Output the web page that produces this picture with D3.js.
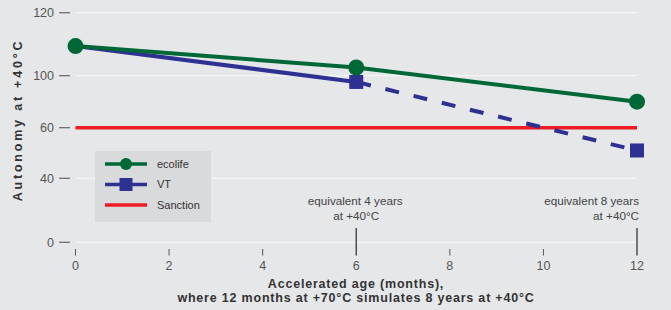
<!DOCTYPE html>
<html><head><meta charset="utf-8">
<script src="https://cdn.jsdelivr.net/npm/d3@7/dist/d3.min.js"></script>
<style>
html,body{margin:0;padding:0;background:#e6e7e9;}
svg{display:block;font-family:"Liberation Sans",Arial,sans-serif;}
</style></head>
<body>
<svg id="c" width="671" height="310"></svg>
<script>
const months = [0, 6, 12];
const ecolife = [109.4, 102.6, 80];
const vt = [109.4, 95.2, 51];
const sanction = [60, 60];
const sanctionX = [0, 12];
const yTicks = [0, 40, 60, 100, 120];
const xTicks = [0, 2, 4, 6, 8, 10, 12];
const legendItems = ["ecolife", "VT", "Sanction"];
const notes = [
  {x: 6, lines: ["equivalent 4 years", "at +40°C"], anchor: "middle"},
  {x: 12, lines: ["equivalent 8 years", "at +40°C"], anchor: "end"}
];
const xTitle = ["Accelerated age (months),", "where 12 months at +70°C simulates 8 years at +40°C"];
const yTitle = "Autonomy at +40°C";

const svg = d3.select("#c");
const green = "#006837", blue = "#2e3192", red = "#ed1c24";

const x = d3.scaleLinear().domain([0, 12]).range([75.5, 637]);
const y = d3.scaleLinear().domain([0, 40, 60, 100, 120]).range([242.3, 178.3, 127.7, 75.7, 12.7]);

// gridlines
svg.append("g").selectAll("line").data(yTicks).join("line")
  .attr("x1", x(0)).attr("x2", x(12))
  .attr("y1", d => y(d)).attr("y2", d => y(d))
  .attr("stroke", "#f5f5f6").attr("stroke-width", 1.2);

// y axis ticks & labels
const yg = svg.append("g");
yg.selectAll("line").data(yTicks).join("line")
  .attr("x1", 59).attr("x2", 70)
  .attr("y1", d => y(d)).attr("y2", d => y(d))
  .attr("stroke", "#666").attr("stroke-width", 1.2);
yg.selectAll("text").data(yTicks).join("text")
  .attr("x", 54).attr("y", d => y(d)).attr("dy", "0.35em")
  .attr("text-anchor", "end").attr("font-size", 12.5).attr("fill", "#555")
  .text(d => d);

// x axis ticks & labels
const xg = svg.append("g");
xg.selectAll("line").data(xTicks).join("line")
  .attr("x1", d => x(d)).attr("x2", d => x(d))
  .attr("y1", d => (d === 6 || d === 12) ? 228 : 249).attr("y2", 255.5)
  .attr("stroke", d => (d === 6 || d === 12) ? "#444" : "#555")
  .attr("stroke-width", d => (d === 6 || d === 12) ? 1.4 : 1);
xg.selectAll("text").data(xTicks).join("text")
  .attr("x", d => x(d)).attr("y", 270)
  .attr("text-anchor", "middle").attr("font-size", 12.5).attr("fill", "#555")
  .text(d => d);

// notes
notes.forEach(n => {
  const t = svg.append("text").attr("font-size", 11.7).attr("fill", "#444")
    .attr("text-anchor", n.anchor);
  n.lines.forEach((l, i) => {
    const xx = n.anchor === "end" ? x(n.x) + 2 : x(n.x) - 1;
    t.append("tspan").attr("x", i === 1 && n.anchor === "middle" ? xx + 1 : xx)
      .attr("y", 205 + i * 14.5).text(l);
  });
});

// axis titles
const xt = svg.append("text").attr("font-size", 12.5).attr("font-weight", "bold")
  .attr("letter-spacing", 0.8).attr("fill", "#333").attr("text-anchor", "middle");
xTitle.forEach((l, i) => xt.append("tspan").attr("x", 356).attr("y", 287.5 + i * 14).text(l));
svg.append("text").attr("transform", "translate(22,120) rotate(-90)")
  .attr("text-anchor", "middle").attr("font-size", 12.5).attr("font-weight", "bold")
  .attr("letter-spacing", 2.8).attr("fill", "#333").text(yTitle);

// sanction line
svg.append("line").attr("x1", x(sanctionX[0])).attr("x2", x(sanctionX[1]))
  .attr("y1", y(sanction[0])).attr("y2", y(sanction[1]))
  .attr("stroke", red).attr("stroke-width", 3.5);

const line = d3.line().x(d => x(d[0])).y(d => y(d[1]));
const eco = months.map((m, i) => [m, ecolife[i]]);
const vtd = months.map((m, i) => [m, vt[i]]);

svg.append("path").attr("d", line(vtd.slice(0, 2))).attr("fill", "none")
  .attr("stroke", blue).attr("stroke-width", 4);
svg.append("path").attr("d", line(vtd.slice(1))).attr("fill", "none")
  .attr("stroke", blue).attr("stroke-width", 4).attr("stroke-dasharray", "14,15")
  .attr("stroke-dashoffset", -1);
svg.append("path").attr("d", line(eco)).attr("fill", "none")
  .attr("stroke", green).attr("stroke-width", 4);

svg.append("g").selectAll("rect").data(vtd.slice(1)).join("rect")
  .attr("x", d => x(d[0]) - 7).attr("y", d => y(d[1]) - 7)
  .attr("width", 14).attr("height", 14).attr("fill", blue);
svg.append("g").selectAll("circle").data(eco).join("circle")
  .attr("cx", d => x(d[0])).attr("cy", d => y(d[1])).attr("r", 8).attr("fill", green);

// legend
const lg = svg.append("g");
lg.append("rect").attr("x", 95).attr("y", 151).attr("width", 116).attr("height", 71)
  .attr("fill", "#d9dadc");
const colors = [green, blue, red];
legendItems.forEach((name, i) => {
  const yy = 164 + i * 20.5;
  lg.append("line").attr("x1", 105).attr("x2", 147).attr("y1", yy).attr("y2", yy)
    .attr("stroke", colors[i]).attr("stroke-width", 3.5);
  if (i === 0) lg.append("circle").attr("cx", 126).attr("cy", yy).attr("r", 6).attr("fill", green);
  if (i === 1) lg.append("rect").attr("x", 119.5).attr("y", yy - 6.5).attr("width", 13).attr("height", 13).attr("fill", blue);
  lg.append("text").attr("x", 157).attr("y", yy).attr("dy", "0.35em")
    .attr("font-size", 11).attr("fill", "#333").text(name);
});
</script>
</body></html>
